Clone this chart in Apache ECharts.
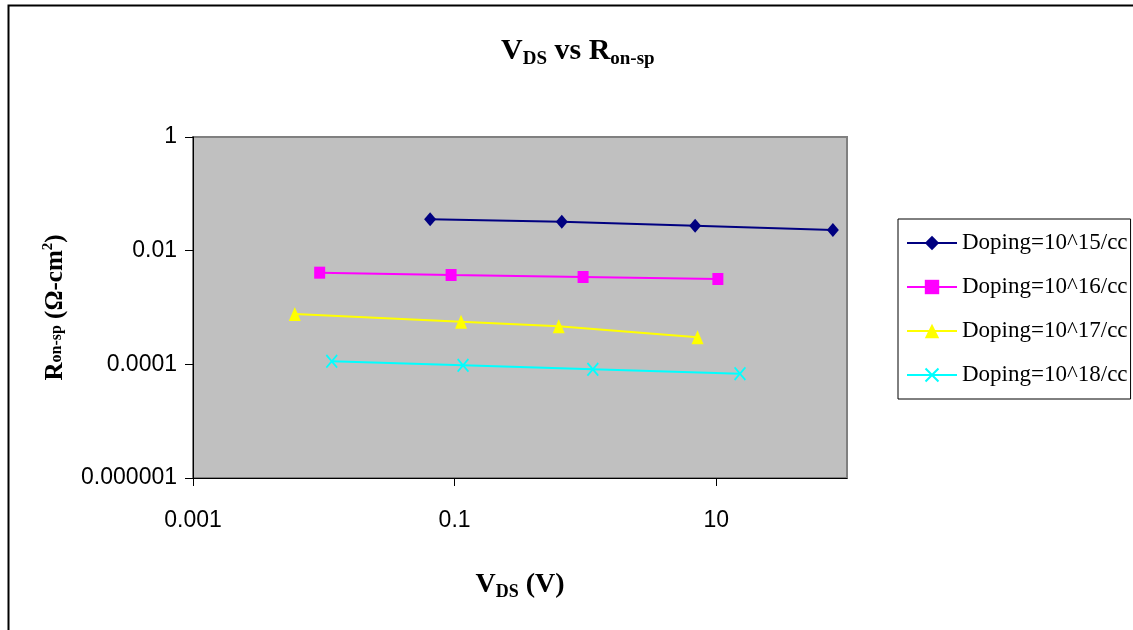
<!DOCTYPE html>
<html>
<head>
<meta charset="utf-8">
<script src="https://cdn.jsdelivr.net/npm/echarts@6/dist/echarts.min.js"></script>
<style>
html,body{margin:0;padding:0;background:#fff;}
#chart{width:1133px;height:630px;}
</style>
</head>
<body>
<div id="chart"></div>
<script>
// ---- data ----
const seriesNames = ['Doping=10^15/cc', 'Doping=10^16/cc', 'Doping=10^17/cc', 'Doping=10^18/cc'];
const vds15 = [0.065, 0.66, 6.9, 78];
const ron15 = [0.0356, 0.0323, 0.0275, 0.0231];
const vds16 = [0.0093, 0.094, 0.96, 10.3];
const ron16 = [0.0041, 0.00373, 0.00344, 0.00317];
const vds17 = [0.0060, 0.112, 0.625, 7.2];
const ron17 = [0.00077, 0.00056, 0.00047, 0.00030];
const vds18 = [0.0115, 0.116, 1.14, 15.2];
const ron18 = [0.000113, 0.0000962, 0.0000817, 0.0000684];
const xTickLabels = ['0.001', '0.1', '10'];
const yTickLabels = ['0.000001', '0.0001', '0.01', '1'];

const colors = ['#000080', '#FF00FF', '#FFFF00', '#00FFFF'];
const symbols = ['diamond', 'rect', 'triangle',
  'path://M0,1 L1,0 L5,4 L9,0 L10,1 L6,5 L10,9 L9,10 L5,6 L1,10 L0,9 L4,5 Z'];
const symbolSizes = [[12, 14], [11, 12], [12, 14], [12, 14]];

function pairs(xs, ys) { return xs.map((x, i) => [x, ys[i]]); }
const allData = [pairs(vds15, ron15), pairs(vds16, ron16), pairs(vds17, ron17), pairs(vds18, ron18)];

function labelFor(list) {
  const map = {};
  list.forEach(s => { map[Math.round(Math.log10(parseFloat(s)))] = s; });
  return v => { const e = Math.round(Math.log10(v)); return map[e] !== undefined ? map[e] : ''; };
}

const serif = '"Liberation Serif", "Times New Roman", serif';
const sans = '"Liberation Sans", Arial, sans-serif';

const chart = echarts.init(document.getElementById('chart'));
chart.setOption({
  animation: false,
  backgroundColor: '#ffffff',
  graphic: [{
    type: 'rect', left: 6, top: 3, z: -10,
    shape: { width: 1140, height: 640 },
    style: { fill: 'none', stroke: '#000', lineWidth: 2 }
  }],
  title: {
    text: '{m|V}{s|DS}{m| vs R}{s|on-sp}',
    left: 496, top: 30,
    textStyle: {
      rich: {
        m: { fontFamily: serif, fontWeight: 'bold', fontSize: 30, color: '#000', lineHeight: 32 },
        s: { fontFamily: serif, fontWeight: 'bold', fontSize: 19, color: '#000', lineHeight: 19, padding: [16, 0, 0, 0] }
      }
    }
  },
  legend: {
    orient: 'vertical',
    left: 898, top: 219,
    padding: [12, 3, 12, 8],
    borderColor: '#000', borderWidth: 1,
    itemWidth: 50, itemHeight: 18, itemGap: 20,
    lineStyle: { width: 2 },
    textStyle: { fontFamily: serif, fontSize: 23, color: '#000', lineHeight: 24 },
    data: seriesNames
  },
  grid: {
    left: 193, top: 137, right: 286, bottom: 152,
    show: true, backgroundColor: '#C0C0C0', borderColor: '#808080', borderWidth: 2
  },
  xAxis: {
    type: 'log', logBase: 10, min: 0.001, max: 100, interval: 2,
    name: '{m|V}{s|DS}{m| (V)}',
    nameLocation: 'middle', nameGap: 92,
    nameTextStyle: {
      rich: {
        m: { fontFamily: serif, fontWeight: 'bold', fontSize: 28, color: '#000', lineHeight: 30 },
        s: { fontFamily: serif, fontWeight: 'bold', fontSize: 18, color: '#000', lineHeight: 18, padding: [15, 0, 0, 0] }
      }
    },
    axisLine: { show: true, lineStyle: { color: '#000', width: 1 } },
    axisTick: { show: true, length: 8, inside: false, lineStyle: { color: '#000' } },
    minorTick: { show: false },
    splitLine: { show: false },
    axisLabel: {
      margin: 31, fontFamily: sans, fontSize: 23, color: '#000',
      showMaxLabel: false,
      formatter: labelFor(xTickLabels)
    }
  },
  yAxis: {
    type: 'log', logBase: 10, min: 0.000001, max: 1, interval: 2,
    name: '{m|R}{s|on-sp}{m| (Ω-cm}{p|2}{m|)}',
    nameLocation: 'middle', nameGap: 124, nameRotate: 90,
    nameTextStyle: {
      rich: {
        m: { fontFamily: serif, fontWeight: 'bold', fontSize: 25, color: '#000', lineHeight: 27 },
        s: { fontFamily: serif, fontWeight: 'bold', fontSize: 16, color: '#000', lineHeight: 16, padding: [3, 0, 0, 0] },
        p: { fontFamily: serif, fontWeight: 'bold', fontSize: 15, color: '#000', lineHeight: 15, padding: [0, 0, 15, 0] }
      }
    },
    axisLine: { show: true, lineStyle: { color: '#000', width: 1 } },
    axisTick: { show: true, length: 8, inside: false, lineStyle: { color: '#000' } },
    splitLine: { show: false },
    axisLabel: {
      margin: 16, fontFamily: sans, fontSize: 23, color: '#000',
      formatter: labelFor(yTickLabels)
    }
  },
  series: seriesNames.map((name, i) => ({
    name: name,
    type: 'line',
    data: allData[i],
    symbol: symbols[i],
    symbolSize: symbolSizes[i],
    showAllSymbol: true,
    color: colors[i],
    lineStyle: { color: colors[i], width: 2 },
    itemStyle: { color: colors[i] }
  }))
});
</script>
</body>
</html>
